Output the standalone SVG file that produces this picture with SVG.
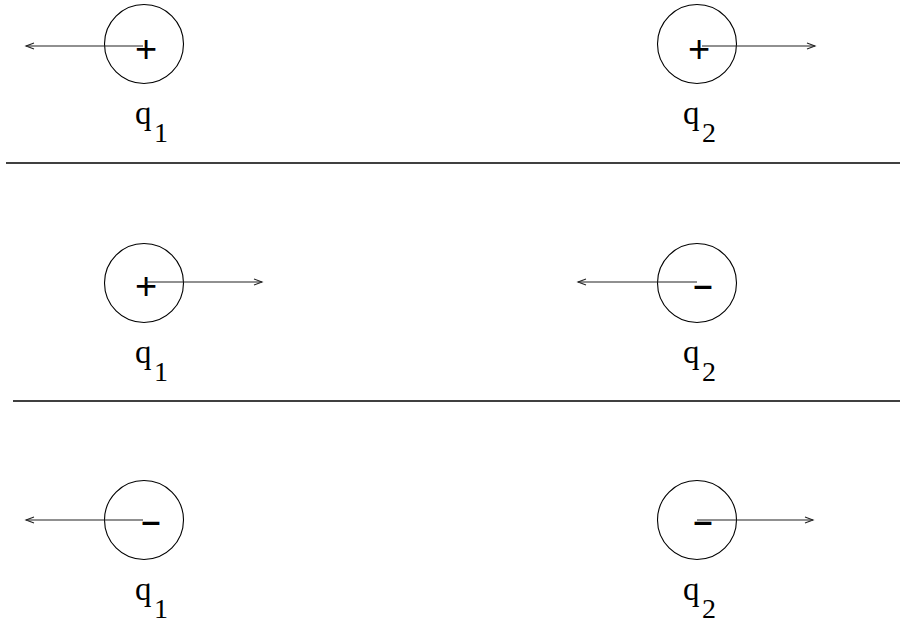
<svg xmlns="http://www.w3.org/2000/svg" width="900" height="624" viewBox="0 0 900 624">
<style>
.c{fill:none;stroke:#000;stroke-width:1.1}
.a{fill:none;stroke:#222;stroke-width:1.1}
.sep{stroke:#000;stroke-width:1.4}
.lab{font-family:"Liberation Serif","Times New Roman",serif;font-size:33px;fill:#000}
.sub{font-size:28px}
.pm{font-family:"Liberation Sans",Arial,sans-serif;fill:#000;text-anchor:middle}
.p{font-size:38px}
.m{font-size:34px;font-weight:bold}
</style>
<defs>
<marker id="ah" markerWidth="12" markerHeight="10" refX="9" refY="4" orient="auto" markerUnits="userSpaceOnUse">
<path d="M1,1 L9,4 L1,7" fill="none" stroke="#222" stroke-width="1.1"/>
</marker>
</defs>
<rect width="900" height="624" fill="#fff"/>
<line class="sep" x1="6" y1="163" x2="900" y2="163"/>
<line class="sep" x1="13" y1="401" x2="900" y2="401"/>
<g id="r1q1">
<circle class="c" cx="144" cy="44" r="39.5"/>
<text class="pm p" x="146" y="62">+</text>
<text class="lab" x="135" y="124">q<tspan class="sub" x="154" y="142">1</tspan></text>
</g>
<g id="r1q2">
<circle class="c" cx="697" cy="44" r="39.5"/>
<text class="pm p" x="699" y="62">+</text>
<text class="lab" x="683" y="124">q<tspan class="sub" x="702" y="142">2</tspan></text>
</g>
<g id="r2q1">
<circle class="c" cx="144" cy="283" r="39.5"/>
<text class="pm p" x="146" y="299">+</text>
<text class="lab" x="135" y="363">q<tspan class="sub" x="154" y="381">1</tspan></text>
</g>
<g id="r2q2">
<circle class="c" cx="697" cy="283" r="39.5"/>
<text class="pm m" x="703" y="296">–</text>
<text class="lab" x="683" y="363">q<tspan class="sub" x="702" y="381">2</tspan></text>
</g>
<g id="r3q1">
<circle class="c" cx="144" cy="520" r="39.5"/>
<text class="pm m" x="151" y="532">–</text>
<text class="lab" x="135" y="600">q<tspan class="sub" x="154" y="618">1</tspan></text>
</g>
<g id="r3q2">
<circle class="c" cx="697" cy="520" r="39.5"/>
<text class="pm m" x="703" y="532">–</text>
<text class="lab" x="683" y="600">q<tspan class="sub" x="702" y="618">2</tspan></text>
</g>
<g id="connectors">
<line class="a" x1="143" y1="46" x2="26" y2="46" marker-end="url(#ah)"/>
<line class="a" x1="702" y1="46" x2="815" y2="46" marker-end="url(#ah)"/>
<line class="a" x1="145" y1="282" x2="262" y2="282" marker-end="url(#ah)"/>
<line class="a" x1="697" y1="282" x2="578" y2="282" marker-end="url(#ah)"/>
<line class="a" x1="143" y1="520" x2="26" y2="520" marker-end="url(#ah)"/>
<line class="a" x1="697" y1="520" x2="813" y2="520" marker-end="url(#ah)"/>
</g>
</svg>
